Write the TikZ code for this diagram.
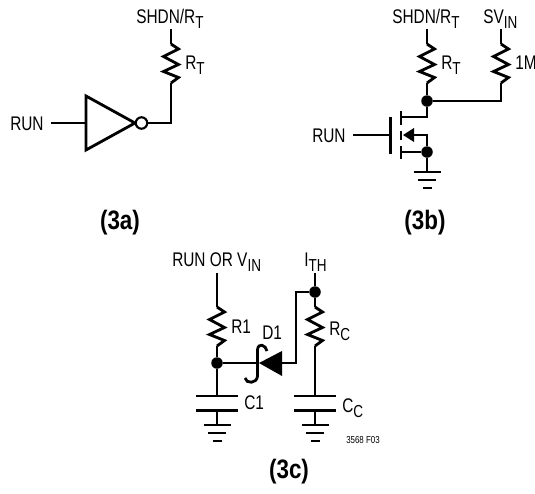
\documentclass[tikz,border=0pt]{standalone}
\usepackage{fontspec}
\setmainfont[FakeStretch=0.78]{Liberation Sans}
\newfontfamily\capfont[FakeStretch=0.84]{Liberation Sans}
\newcommand{\lowsub}[1]{\raisebox{-0.3em}{\fontsize{13}{14}\selectfont #1}}
\newcommand{\resist}[3]{% name, x, top y
  \coordinate (#1t) at (#2,#3);
  \coordinate (#1b) at (#2,#3+39);
  \draw[wire] (#1t) -- ++(7.5,5) -- ++(-15,7.5) -- ++(15,8) -- ++(-15,7) -- ++(15,6) -- (#1b);}
\newcommand{\grnd}[3]{% name, x, y
  \coordinate (#1) at (#2,#3);
  \draw[wire] (#2-13.5,#3) -- (#2+13.5,#3);
  \draw[wire] (#2-9,#3+8) -- (#2+9,#3+8);
  \draw[wire] (#2-4.5,#3+16) -- (#2+4.5,#3+16);}
\newcommand{\capac}[3]{% name, x, y
  \coordinate (#1a) at (#2,#3);
  \coordinate (#1b) at (#2,#3+14.5);
  \draw[wire] (#2-21,#3) -- (#2+21,#3);
  \draw[wire] (#2-21,#3+14.5) -- (#2+21,#3+14.5);}
\tikzset{
  wire/.style={line width=2.1pt,line cap=butt,line join=miter},
  dotn/.style={circle,fill=black,draw=none,minimum size=11.5pt*0.75,inner sep=0pt},
  lab/.style={inner sep=0pt,anchor=base west,font=\fontsize{14.8}{16}\selectfont},
  cap3/.style={inner sep=0pt,anchor=center,font=\capfont\fontsize{20}{22}\selectfont\bfseries},
}
\begin{document}
\begin{tikzpicture}[x=0.75pt,y=-0.75pt]
\useasboundingbox (0,0) rectangle (535,493);
% ---- 3a
\node[lab] (a1) at (136,23) {SHDN/R\lowsub{T}};
\node[lab] (a2) at (185,69) {R\lowsub{T}};
\node[lab] (a3) at (10,130) {RUN};
\node[cap3] (a4) at (120,223) {(3a)};
\coordinate (aS) at (171,29);
\resist{aR}{171}{44}
\draw[wire] (aS) -- (aRt);
\coordinate (aI) at (51,123);
\coordinate (aA) at (86,123);
\coordinate (aT1) at (86,96);
\coordinate (aT2) at (86,150);
\coordinate (aT3) at (135,123);
\draw[wire] (aT1) -- (aT3) -- (aT2) -- cycle;
\draw[wire] (aI) -- (aA);
\node[circle,draw=black,line width=1.6pt,fill=white,minimum size=8.6pt,inner sep=0pt] (aB) at (141.5,123) {};
\draw[wire] (aB) -- (171,123) -- (aRb);
% ---- 3b
\node[lab] (b1) at (392,23) {SHDN/R\lowsub{T}};
\node[lab] (b2) at (441,69) {R\lowsub{T}};
\node[lab] (b3) at (483,23) {SV\lowsub{IN}};
\node[lab] (b4) at (515,69) {1M};
\node[lab] (b5) at (312,142) {RUN};
\node[cap3] (b6) at (425,223) {(3b)};
\coordinate (bS) at (427,29);
\coordinate (bV) at (501,29);
\resist{bR}{427}{44}
\resist{bQ}{501}{44}
\draw[wire] (bS) -- (bRt);
\draw[wire] (bV) -- (bQt);
\node[dotn] (bJ) at (427,101) {};
\draw[wire] (bRb) -- (bJ);
\draw[wire] (bJ) -- (501,101) -- (bQb);
\coordinate (bGi) at (353,135);
\coordinate (bG) at (390.5,135);
\draw[wire] (bGi) -- (bG);
\draw[wire] (390.5,117) -- (390.5,153.5);
\draw[wire] (401,111) -- (401,125);
\draw[wire] (401,130.5) -- (401,140);
\draw[wire] (401,146) -- (401,159);
\draw[wire] (401,117) -- (427,117) -- (bJ);
\node[dotn] (bK) at (427,152) {};
\draw[wire] (401,152) -- (bK);
\draw[wire] (410,135) -- (427,135) -- (bK);
\fill (403,135) -- (414,128) -- (414,142) -- cycle;
\grnd{bGnd}{427}{172}
\draw[wire] (bK) -- (bGnd);
% ---- 3c
\node[lab] (c1) at (172,266) {RUN OR V\lowsub{IN}};
\node[lab] (c2) at (304,266) {I\lowsub{TH}};
\node[lab] (c3) at (231,333) {R1};
\node[lab] (c4) at (262,339) {D1};
\node[lab] (c5) at (329,335) {R\lowsub{C}};
\node[lab] (c6) at (244,409) {C1};
\node[lab] (c7) at (342,412) {C\lowsub{C}};
\node[inner sep=0pt,anchor=base west,font=\fontsize{7.6}{8}\selectfont] (c8) at (346,443) {3568 F03};
\node[cap3] (c9) at (289,472) {(3c)};
\coordinate (cA) at (217,273);
\resist{cR}{217}{307}
\draw[wire] (cA) -- (cRt);
\node[dotn] (cJ) at (217,363) {};
\draw[wire] (cRb) -- (cJ);
\capac{cC}{217}{396}
\draw[wire] (cJ) -- (cCa);
\grnd{cG}{217}{425}
\draw[wire] (cCb) -- (cG);
\coordinate (dA) at (259,363);
\coordinate (dB) at (281,363);
\fill (dA) -- (282,351) -- (282,376) -- cycle;
\draw[wire] (cJ) -- (dA);
\draw[wire] (267,351) .. controls (266,345) and (258,342) .. (257.5,350) -- (257.5,376) .. controls (257,384) and (246,384) .. (245,378);
\coordinate (dT) at (315,273);
\node[dotn] (dJ) at (315,292) {};
\draw[wire] (dT) -- (dJ);
\draw[wire] (dJ) -- (296,292) -- (296,363) -- (dB);
\resist{dR}{315}{307}
\draw[wire] (dJ) -- (dRt);
\capac{dC}{315}{396}
\draw[wire] (dRb) -- (dCa);
\grnd{dG}{315}{425}
\draw[wire] (dCb) -- (dG);
\end{tikzpicture}
\end{document}
